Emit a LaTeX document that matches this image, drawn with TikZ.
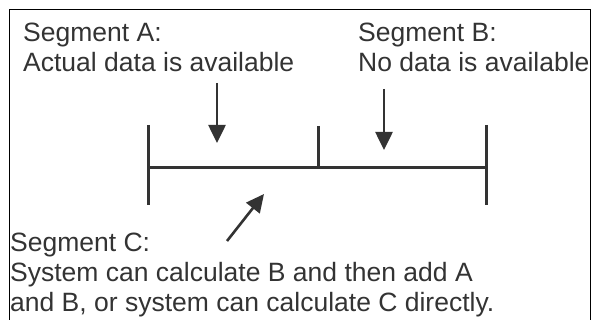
\documentclass[tikz,border=0pt]{standalone}
\usepackage{fontspec}
\setmainfont{Liberation Sans}
\usetikzlibrary{arrows.meta}
\definecolor{ink}{HTML}{333333}
\begin{document}
\begin{tikzpicture}[x=1pt,y=-1pt,
  lbl/.style={anchor=base west,inner sep=0pt,align=left,text=ink,
    font=\fontsize{26.5}{30}\selectfont},
  tl/.style={draw=ink,line width=3pt},
  arr/.style={draw=ink,line width=2.6pt,-{Triangle[length=18pt,width=17pt]}},
  frame/.style={draw=black,line width=1pt}]
\useasboundingbox (0,0) rectangle (592,320);
\draw[frame] (9,330) -- (9,10) -- (590,10) -- (590,330);
% texts (anchor = baseline of last line)
\node[lbl] (ta) at (23,72) {Segment A:\\Actual data is available};
\node[lbl] (tb) at (358,72) {Segment B:\\No data is available};
\node[lbl] (tc) at (10,312) {Segment C:\\System can calculate B and then add A\\and B, or system can calculate C directly.};
% timeline
\coordinate (l0) at (148,168);
\coordinate (m0) at (318,168);
\coordinate (r0) at (486,168);
\coordinate (lt) at (148,125);
\coordinate (lb) at (148,205);
\coordinate (mt) at (318,126);
\coordinate (rt) at (486,125);
\coordinate (rb) at (486,205);
\draw[tl] (l0) -- (r0);
\draw[tl] (lt) -- (lb);
\draw[tl] (mt) -- (m0);
\draw[tl] (rt) -- (rb);
% arrows
\coordinate (a1) at (217,83);
\coordinate (a2) at (217,143);
\coordinate (b1) at (384,89);
\coordinate (b2) at (384,150);
\coordinate (c1) at (227,241);
\coordinate (c2) at (264,194);
\draw[arr] (a1) -- (a2);
\draw[arr] (b1) -- (b2);
\draw[arr] (c1) -- (c2);
\end{tikzpicture}
\end{document}
